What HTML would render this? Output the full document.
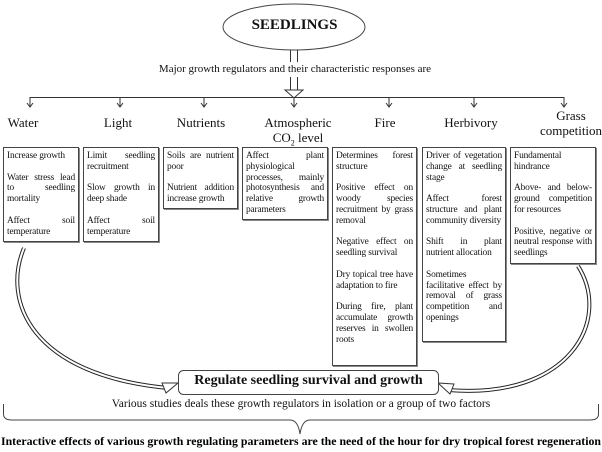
<!DOCTYPE html>
<html><head><meta charset="utf-8"><style>
body{margin:0;width:602px;height:448px;background:#fff;position:relative;overflow:hidden;font-family:"Liberation Serif",serif;color:#111}
.b{position:absolute;top:147px;border:1px solid #444;box-sizing:border-box;padding:3px 3px;font-size:9.4px;line-height:10.8px;text-align:justify;box-shadow:1px 1px 0 #888;letter-spacing:-0.15px}
.b p{margin:0 0 10.8px 0}
.b p:last-child{margin:0}
.l{position:absolute;font-size:13px;text-align:center;transform:translateX(-50%);white-space:nowrap;line-height:15px}
</style></head><body>
<svg width="602" height="448" style="position:absolute;left:0;top:0">
<ellipse cx="294" cy="27" rx="71" ry="23" fill="#fff" stroke="#444" stroke-width="1"/>
<line x1="290.5" y1="50" x2="290.5" y2="62" stroke="#333"/>
<line x1="297.5" y1="50" x2="297.5" y2="62" stroke="#333"/>
<line x1="290.5" y1="77" x2="290.5" y2="90" stroke="#333"/>
<line x1="297.5" y1="77" x2="297.5" y2="90" stroke="#333"/>
<path d="M285 90 L303 90 L294 98 Z" fill="#fff" stroke="#333"/>
<line x1="30" y1="97.5" x2="564" y2="97.5" stroke="#333"/>
<g stroke="#333" fill="none">
<path d="M30 97V107M27 103L30 107L33 103"/>
<path d="M120 97V107M117 103L120 107L123 103"/>
<path d="M204 97V107M201 103L204 107L207 103"/>
<path d="M294 97V107M291 103L294 107L297 103"/>
<path d="M389 97V107M386 103L389 107L392 103"/>
<path d="M474 97V107M471 103L474 107L477 103"/>
<path d="M564 97V107M561 103L564 107L567 103"/>
</g>
<g fill="none">
<path d="M24 248 C2 300, 30 375, 168 388" stroke="#222" stroke-width="4"/>
<path d="M24 248 C2 300, 30 375, 168 388" stroke="#fff" stroke-width="2"/>
<path d="M578 266 C612 320, 570 400, 448 390" stroke="#222" stroke-width="4"/>
<path d="M578 266 C612 320, 570 400, 448 390" stroke="#fff" stroke-width="2"/>
</g>
<path d="M162 383 L178 383 L166 393 Z" fill="#fff" stroke="#333"/>
<path d="M454 384 L438 383 L450 394 Z" fill="#fff" stroke="#333"/>
<rect x="178.5" y="370.5" width="260" height="24" rx="5" fill="#fff" stroke="#444"/>
<path d="M3.5 404 L3.5 414 Q3.5 420 12 420 L290 420 Q298 420 300 434 Q302 420 310 420 L590 420 Q598.5 420 598.5 414 L598.5 404" fill="none" stroke="#444"/>
</svg>
<div style="position:absolute;left:223px;top:17px;width:143px;text-align:center;font-weight:bold;font-size:15px">SEEDLINGS</div>
<div style="position:absolute;left:90px;top:63px;width:410px;text-align:center;font-size:11px">Major growth regulators and their characteristic responses are</div>
<div class="l" style="left:23px;top:115px">Water</div>
<div class="l" style="left:118px;top:115px">Light</div>
<div class="l" style="left:201px;top:115px">Nutrients</div>
<div class="l" style="left:298px;top:115px">Atmospheric<br>CO<sub style="font-size:8px">2</sub> level</div>
<div class="l" style="left:385px;top:115px">Fire</div>
<div class="l" style="left:471px;top:115px">Herbivory</div>
<div class="l" style="left:571px;top:108px">Grass<br>competition</div>
<div class="b" style="left:3px;width:76px;height:95px"><p>Increase growth</p><p>Water stress lead to seedling mortality</p><p>Affect soil temperature</p></div>
<div class="b" style="left:83px;width:76px;height:95px"><p>Limit seedling recruitment</p><p>Slow growth in deep shade</p><p>Affect soil temperature</p></div>
<div class="b" style="left:163px;width:75px;height:62px"><p>Soils are nutrient poor</p><p>Nutrient addition increase growth</p></div>
<div class="b" style="left:242px;width:86px;height:73px"><p>Affect plant physiological processes, mainly photosynthesis and relative growth parameters</p></div>
<div class="b" style="left:332px;width:85px;height:219px"><p>Determines forest structure</p><p>Positive effect on woody species recruitment by grass removal</p><p>Negative effect on seedling survival</p><p>Dry topical tree have adaptation to fire</p><p>During fire, plant accumulate growth reserves in swollen roots</p></div>
<div class="b" style="left:422px;width:84px;height:195px"><p>Driver of vegetation change at seedling stage</p><p>Affect forest structure and plant community diversity</p><p>Shift in plant nutrient allocation</p><p>Sometimes facilitative effect by removal of grass competition and openings</p></div>
<div class="b" style="left:510px;width:86px;height:117px"><p>Fundamental hindrance</p><p>Above- and below-ground competition for resources</p><p>Positive, negative or neutral response with seedlings</p></div>
<div style="position:absolute;left:178px;top:373px;width:261px;text-align:center;font-weight:bold;font-size:14px">Regulate seedling survival and growth</div>
<div style="position:absolute;left:0;top:398px;width:602px;text-align:center;font-size:11.5px">Various studies deals these growth regulators in isolation or a group of two factors</div>
<svg width="602" height="20" style="position:absolute;left:0;top:432px"><text x="1" y="13" font-family="Liberation Serif" font-weight="bold" font-size="11.5" textLength="600" lengthAdjust="spacingAndGlyphs">Interactive effects of various growth regulating parameters are the need of the hour for dry tropical forest regeneration</text></svg>
</body></html>
